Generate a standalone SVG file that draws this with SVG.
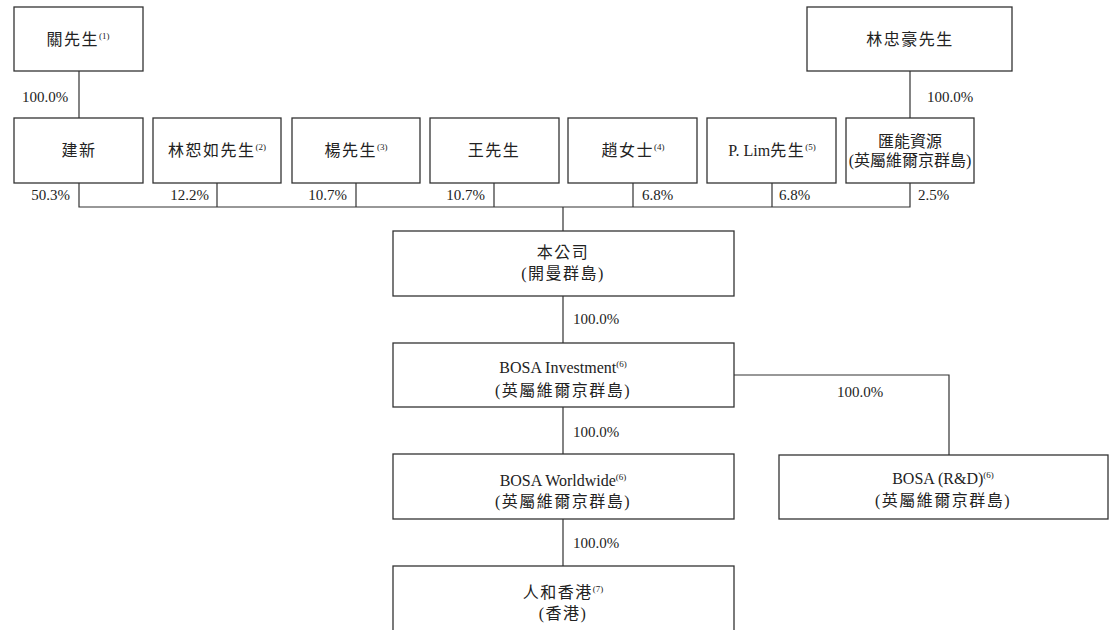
<svg xmlns="http://www.w3.org/2000/svg" width="1110" height="630" viewBox="0 0 1110 630">
<style>
.box{fill:#fff;stroke:#333;stroke-width:1.3}
.ln{fill:none;stroke:#333;stroke-width:1.2}
text{font-family:"Liberation Serif","Noto Sans CJK TC",serif;font-size:16px;fill:#222}
.p{font-size:15px}
.c{text-anchor:middle}
.e{text-anchor:end}
.cj{letter-spacing:1.5px}
.sup{font-size:9px;letter-spacing:0}
</style>
<rect width="1110" height="630" fill="#fff"/>
<g id="connectors">
<path class="ln" d="M79 71V118M910 71V118"/>
<path class="ln" d="M79 183V207H910V183M217 183V207M356 183V207M494 183V207M633 183V207M772 183V207"/>
<path class="ln" d="M563 207V231M563 296V343M563 407V454M563 519V566M734 375H949V455"/>
<text class="p" x="22" y="102">100.0%</text>
<text class="p" x="927" y="102">100.0%</text>
<text class="p e" x="70" y="200">50.3%</text>
<text class="p e" x="209" y="200">12.2%</text>
<text class="p e" x="347" y="200">10.7%</text>
<text class="p e" x="485" y="200">10.7%</text>
<text class="p" x="642" y="200">6.8%</text>
<text class="p" x="779" y="200">6.8%</text>
<text class="p" x="918" y="200">2.5%</text>
<text class="p" x="573" y="324">100.0%</text>
<text class="p" x="573" y="437">100.0%</text>
<text class="p" x="573" y="548">100.0%</text>
<text class="p" x="837" y="397">100.0%</text>
</g>
<g id="n-guan"><rect class="box" x="14" y="7" width="129" height="64"/><text class="c cj" x="78" y="45">關先生<tspan class="sup" dy="-6">(1)</tspan></text></g>
<g id="n-lin-zh"><rect class="box" x="807" y="7" width="205" height="64"/><text class="c cj" x="910" y="45">林忠豪先生</text></g>
<g id="n-jianxin"><rect class="box" x="14" y="118" width="129" height="65"/><text class="c cj" x="79" y="156">建新</text></g>
<g id="n-linshu"><rect class="box" x="153" y="118" width="128" height="65"/><text class="c cj" x="217" y="156">林恕如先生<tspan class="sup" dy="-6">(2)</tspan></text></g>
<g id="n-yang"><rect class="box" x="292" y="118" width="128" height="65"/><text class="c cj" x="356" y="156">楊先生<tspan class="sup" dy="-6">(3)</tspan></text></g>
<g id="n-wang"><rect class="box" x="430" y="118" width="129" height="65"/><text class="c cj" x="494" y="156">王先生</text></g>
<g id="n-zhao"><rect class="box" x="568" y="118" width="129" height="65"/><text class="c cj" x="633" y="156">趙女士<tspan class="sup" dy="-6">(4)</tspan></text></g>
<g id="n-plim"><rect class="box" x="707" y="118" width="129" height="65"/><text class="c" x="772" y="156">P. Lim<tspan class="cj">先生</tspan><tspan class="sup" dy="-6">(5)</tspan></text></g>
<g id="n-huineng"><rect class="box" x="846" y="118" width="128" height="65"/><text class="c" x="910" y="147">匯能資源</text><text class="c" x="910" y="166">(英屬維爾京群島)</text></g>
<g id="n-company"><rect class="box" x="393" y="231" width="341" height="65"/><text class="c cj" x="563" y="258">本公司</text><text class="c cj" x="563" y="279">(開曼群島)</text></g>
<g id="n-bosa-inv"><rect class="box" x="393" y="343" width="341" height="64"/><text class="c" x="563" y="373">BOSA Investment<tspan class="sup" dy="-6">(6)</tspan></text><text class="c cj" x="563" y="396">(英屬維爾京群島)</text></g>
<g id="n-bosa-ww"><rect class="box" x="393" y="454" width="341" height="65"/><text class="c" x="563" y="486">BOSA Worldwide<tspan class="sup" dy="-6">(6)</tspan></text><text class="c cj" x="563" y="507">(英屬維爾京群島)</text></g>
<g id="n-bosa-rd"><rect class="box" x="779" y="455" width="329" height="64"/><text class="c" x="943" y="484">BOSA (R&amp;D)<tspan class="sup" dy="-6">(6)</tspan></text><text class="c cj" x="943" y="506">(英屬維爾京群島)</text></g>
<g id="n-renhe"><rect class="box" x="393" y="566" width="341" height="80"/><text class="c cj" x="563" y="598">人和香港<tspan class="sup" dy="-6">(7)</tspan></text><text class="c cj" x="563" y="619">(香港)</text></g>
</svg>
